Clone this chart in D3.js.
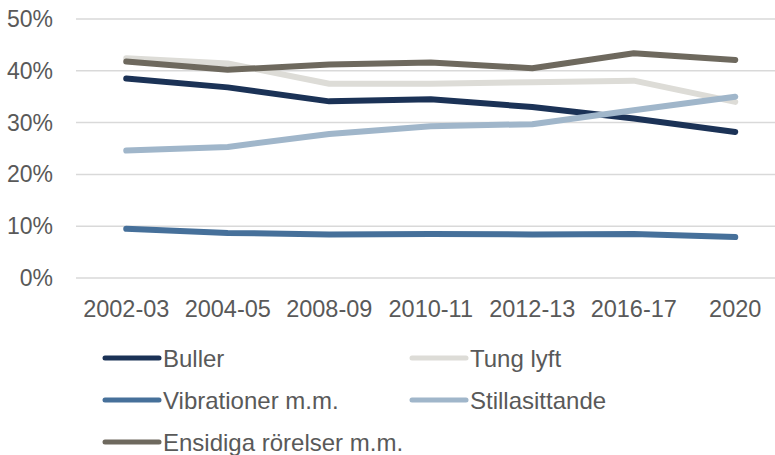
<!DOCTYPE html>
<html>
<head>
<meta charset="utf-8">
<script src="https://cdn.jsdelivr.net/npm/d3@7"></script>
<style>
  body { margin: 0; background: #fff; }
  svg { display: block; font-family: Arial, "Liberation Sans", sans-serif; }
</style>
</head>
<body>
<div id="graphicContainer"></div>
<script>
var categories = ["2002-03", "2004-05", "2008-09", "2010-11", "2012-13", "2016-17", "2020"]
var yTicks = [0, 10, 20, 30, 40, 50]

var buller = [38.5, 36.8, 34.1, 34.5, 33.0, 30.8, 28.2]
var tungLyft = [42.4, 41.4, 37.5, 37.5, 37.8, 38.1, 34.0]
var vibrationer = [9.5, 8.7, 8.4, 8.5, 8.4, 8.5, 7.9]
var stillasittande = [24.6, 25.3, 27.8, 29.3, 29.7, 32.4, 35.0]
var ensidiga = [41.8, 40.2, 41.2, 41.6, 40.5, 43.4, 42.1]

var series = [
  { name: "Buller", values: buller, color: "#1b3256" },
  { name: "Tung lyft", values: tungLyft, color: "#dddcd7" },
  { name: "Vibrationer m.m.", values: vibrationer, color: "#46709a" },
  { name: "Stillasittande", values: stillasittande, color: "#a0b6ca" },
  { name: "Ensidiga rörelser m.m.", values: ensidiga, color: "#6e695e" }
]

var width = 775
var height = 455

var svg = d3.select("#graphicContainer")
  .append("svg")
  .attr("width", width)
  .attr("height", height)

var x = d3.scaleBand()
  .domain(categories)
  .range([75.5, 786])

var y = d3.scaleLinear()
  .domain([0, 50])
  .range([278, 19])

// gridlines
svg.append("g")
  .selectAll("line")
  .data(yTicks)
  .join("line")
  .attr("x1", 76)
  .attr("x2", width)
  .attr("y1", d => y(d))
  .attr("y2", d => y(d))
  .attr("stroke", "#d9d9d9")
  .attr("stroke-width", 1.5)

// y labels
svg.append("g")
  .selectAll("text")
  .data(yTicks)
  .join("text")
  .attr("x", 53)
  .attr("y", d => y(d) + 8)
  .attr("text-anchor", "end")
  .attr("fill", "#595959")
  .style("font-size", "23px")
  .text(d => d + "%")

// x labels
svg.append("g")
  .selectAll("text")
  .data(categories)
  .join("text")
  .attr("x", d => x(d) + x.bandwidth() / 2)
  .attr("y", 317)
  .attr("text-anchor", "middle")
  .attr("fill", "#595959")
  .style("font-size", "23.5px")
  .text(d => d)

var line = d3.line()
  .x((d, i) => x(categories[i]) + x.bandwidth() / 2)
  .y(d => y(d))

svg.append("g")
  .selectAll("path")
  .data(series)
  .join("path")
  .attr("d", d => line(d.values))
  .attr("fill", "none")
  .attr("stroke", d => d.color)
  .attr("stroke-width", 6)
  .attr("stroke-linecap", "round")
  .attr("stroke-linejoin", "round")

// legend, two columns
var legend = svg.append("g")
  .selectAll("g")
  .data(series)
  .join("g")
  .attr("transform", function (d, i) {
    var col = i % 2
    var row = Math.floor(i / 2)
    return "translate(" + (105 + col * 307) + "," + (358 + row * 42) + ")"
  })

legend.append("line")
  .attr("x1", 0)
  .attr("x2", 54)
  .attr("stroke", d => d.color)
  .attr("stroke-width", 5)
  .attr("stroke-linecap", "round")

legend.append("text")
  .attr("x", 58)
  .attr("y", 8.5)
  .attr("fill", "#595959")
  .style("font-size", "24px")
  .text(d => d.name)
</script>
</body>
</html>
